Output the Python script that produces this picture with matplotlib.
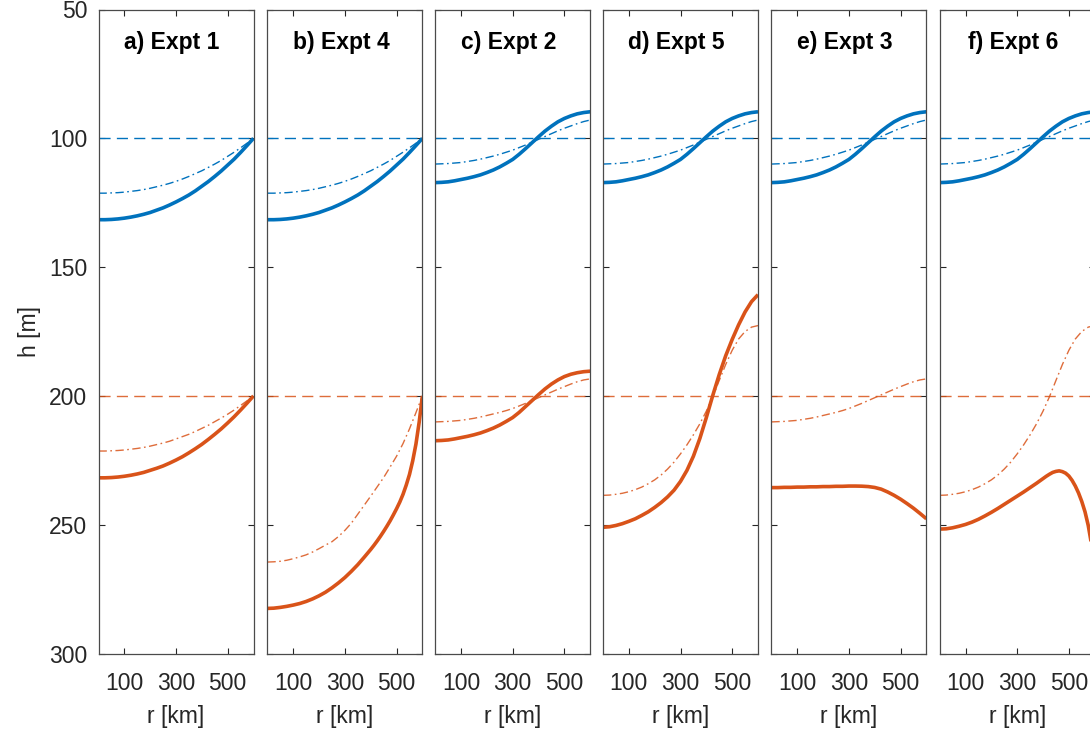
import matplotlib
matplotlib.use("Agg")
import matplotlib.pyplot as plt

# ---------------- data ----------------
r_km = [0, 25, 50, 75, 100, 125, 150, 175, 200, 225, 250, 275, 300,
        325, 350, 375, 400, 425, 450, 475, 500, 525, 550, 575, 600]
# finer sampling near the rim for the steep curves (Expt 4 and 6)
r_km_fine = [0, 25, 50, 75, 100, 125, 150, 175, 200, 225, 250, 275, 300,
             325, 350, 375, 400, 412.5, 425, 437.5, 450, 462.5, 475, 487.5,
             500, 512.5, 525, 537.5, 550, 562.5, 575, 587.5, 600]

titles = ["a) Expt 1", "b) Expt 4", "c) Expt 2", "d) Expt 5", "e) Expt 3", "f) Expt 6"]

upper_ref = 100
lower_ref = 200

# upper layer (blue), Expts 1 & 4
up14_solid = [131.6, 131.6, 131.5, 131.3, 131.0, 130.6, 130.1, 129.5, 128.8, 127.9, 127.0, 125.9, 124.7,
              123.4, 122.0, 120.4, 118.6, 116.8, 114.8, 112.7, 110.4, 108.1, 105.5, 102.8, 100.0]
up14_dd = [121.3, 121.3, 121.2, 121.1, 120.9, 120.6, 120.3, 119.9, 119.4, 118.8, 118.2, 117.5, 116.7,
           115.8, 114.8, 113.7, 112.6, 111.3, 110.0, 108.6, 107.0, 105.4, 103.7, 101.9, 100.0]
# upper layer (blue), Expts 2,5,3,6
up_other_solid = [117.2, 117.1, 116.9, 116.5, 116.0, 115.5, 114.9, 114.2, 113.3, 112.3, 111.1, 109.7, 108.2,
                  106.2, 104.0, 101.7, 99.4, 97.2, 95.3, 93.6, 92.3, 91.3, 90.5, 90.0, 89.7]
up_other_dd = [110.0, 109.9, 109.8, 109.6, 109.4, 109.0, 108.6, 108.1, 107.5, 106.9, 106.2, 105.4, 104.6,
               103.6, 102.6, 101.5, 100.4, 99.3, 98.2, 97.1, 96.1, 95.2, 94.3, 93.5, 92.9]

# lower layer (orange)
lo1_solid = [231.8, 231.8, 231.7, 231.5, 231.2, 230.8, 230.3, 229.7, 228.9, 228.1, 227.2, 226.1, 224.9,
             223.6, 222.1, 220.5, 218.8, 216.9, 214.9, 212.8, 210.5, 208.1, 205.5, 202.8, 200.0]
lo1_dd = [221.4, 221.4, 221.3, 221.2, 221.0, 220.7, 220.4, 220.0, 219.5, 218.9, 218.3, 217.6, 216.7,
          215.8, 214.9, 213.8, 212.6, 211.4, 210.0, 208.6, 207.1, 205.5, 203.7, 201.9, 200.0]
lo4_solid = [282.5, 282.4, 282.1, 281.7, 281.2, 280.6, 279.8, 278.8, 277.6, 276.2, 274.5, 272.6, 270.5,
             268.1, 265.5, 262.6, 259.6, 258.0, 256.3, 254.5, 252.6, 250.6, 248.5, 246.2,
             243.8, 241.2, 238.2, 234.6, 230.5, 225.2, 218.7, 210.2, 200.0]
lo4_dd = [264.5, 264.4, 264.2, 263.8, 263.2, 262.5, 261.7, 260.6, 259.3, 257.9, 256.6, 254.6, 252.2,
          249.4, 245.9, 242.4, 238.9, 235.3, 231.7, 227.6, 223.4, 218.5, 212.8, 206.5, 200.0]
lo2_solid = [217.4, 217.3, 217.1, 216.7, 216.2, 215.7, 215.1, 214.4, 213.5, 212.5, 211.3, 209.9, 208.4,
             206.4, 204.1, 201.8, 199.5, 197.3, 195.4, 193.8, 192.5, 191.6, 191.0, 190.6, 190.4]
lo23_dd = [210.1, 210.0, 209.9, 209.7, 209.5, 209.1, 208.7, 208.2, 207.6, 207.0, 206.4, 205.7, 204.9,
           203.9, 202.9, 201.8, 200.7, 199.6, 198.5, 197.4, 196.4, 195.4, 194.5, 193.8, 193.4]
lo5_solid = [251.0, 250.8, 250.3, 249.6, 248.7, 247.7, 246.4, 245.0, 243.3, 241.4, 239.2, 236.6, 233.2,
             228.9, 223.4, 216.5, 208.4, 199.8, 191.7, 184.4, 178.1, 172.4, 167.4, 163.4, 160.7]
lo56_dd = [238.6, 238.5, 238.2, 237.8, 237.2, 236.4, 235.4, 234.1, 232.6, 230.7, 228.4, 225.7, 222.5,
           219.0, 215.1, 210.8, 205.9, 200.3, 194.0, 187.8, 182.3, 177.9, 175.0, 173.3, 172.7]
lo3_solid = [235.6, 235.6, 235.5, 235.5, 235.4, 235.4, 235.3, 235.3, 235.2, 235.2, 235.1, 235.1, 235.0,
             235.0, 235.05, 235.2, 235.55, 236.2, 237.3, 238.6, 240.1, 241.8, 243.6, 245.6, 247.7]
lo6_solid = [251.7, 251.6, 251.2, 250.6, 249.9, 249.0, 247.9, 246.6, 245.2, 243.7, 242.1, 240.5, 238.9,
             237.3, 235.6, 233.9, 232.1, 231.2, 230.4, 229.7, 229.3, 229.1, 229.4, 230.0,
             231.1, 232.8, 235.0, 237.7, 241.0, 245.0, 250.3, 257.5, 266.5]

panels = [
    (r_km, up14_solid, up14_dd, r_km, lo1_solid, lo1_dd),
    (r_km, up14_solid, up14_dd, r_km_fine, lo4_solid, lo4_dd),
    (r_km, up_other_solid, up_other_dd, r_km, lo2_solid, lo23_dd),
    (r_km, up_other_solid, up_other_dd, r_km, lo5_solid, lo56_dd),
    (r_km, up_other_solid, up_other_dd, r_km, lo3_solid, lo23_dd),
    (r_km, up_other_solid, up_other_dd, r_km_fine, lo6_solid, lo56_dd),
]

x_ticks = [100, 300, 500]
y_ticks = [50, 100, 150, 200, 250, 300]

# ---------------- style ----------------
plt.rcParams['font.family'] = ['Liberation Sans', 'DejaVu Sans']
BLUE = '#0072BD'
ORANGE = '#D95319'
AXC = '#262626'

W, H = 1090, 732
fig = plt.figure(figsize=(W / 100, H / 100), dpi=100)

left_px = [98.5, 267.4, 435.2, 603.0, 771.4, 939.7]
width_px = 155.0
top_px, bottom_px = 9.5, 653.5

dash = (8, 4.5)
dashdot = (6, 2.5, 1.2, 2.5)

for i, (ttl, (r_s, us, ud, r_l, ls, ld)) in enumerate(zip(titles, panels)):
    ax = fig.add_axes([left_px[i] / W, 1 - bottom_px / H, width_px / W, (bottom_px - top_px) / H])
    ax.axhline(upper_ref, color=BLUE, lw=1.0, dashes=dash)
    ax.axhline(lower_ref, color=ORANGE, lw=1.0, dashes=dash, alpha=0.85)
    ax.plot(r_km, ud, color=BLUE, lw=1.0, dashes=dashdot)
    ax.plot(r_km, ld, color=ORANGE, lw=1.0, dashes=dashdot, alpha=0.85)
    ax.plot(r_s, us, color=BLUE, lw=2.6, solid_capstyle='butt', solid_joinstyle='round')
    ax.plot(r_l, ls, color=ORANGE, lw=2.6, solid_capstyle='butt', solid_joinstyle='round')

    ax.set_xlim(0, 600)
    ax.set_ylim(300, 50)
    ax.set_xticks(x_ticks)
    ax.set_yticks(y_ticks)
    ax.tick_params(direction='in', length=4, width=0.8, top=True, right=True,
                   colors=AXC, labelsize=16.5, pad=13)
    ax.tick_params(axis='y', pad=8)
    if i > 0:
        ax.set_yticklabels([])
    else:
        ax.set_ylabel('h [m]', fontsize=16.5, color=AXC, labelpad=6)
    ax.set_xlabel('r [km]', fontsize=16.5, color=AXC, labelpad=7.5)
    for s in ax.spines.values():
        s.set_color('#4a4a4a')
        s.set_linewidth(0.9)
    ax.text(285, 63, ttl, ha='center', va='center', fontsize=16.5,
            fontweight='bold', color='black')

fig.savefig('out.png', dpi=100)
